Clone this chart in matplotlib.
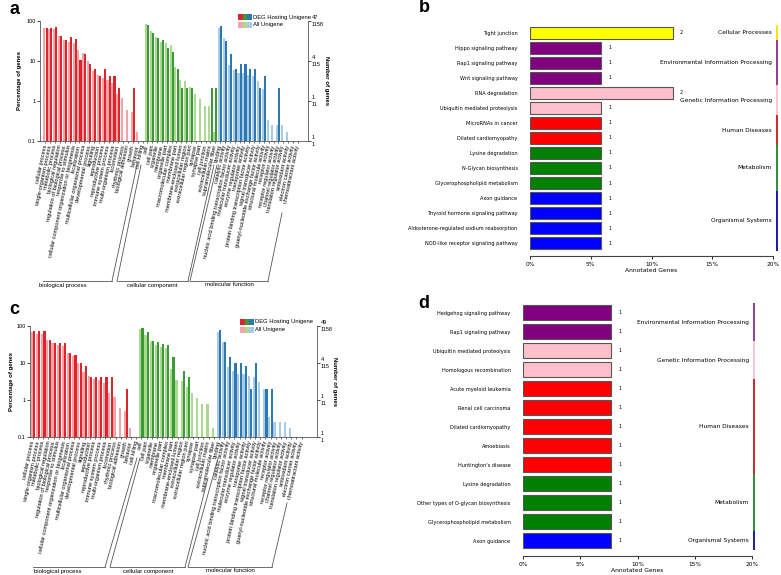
import numpy as np
import matplotlib.pyplot as plt
from matplotlib.transforms import blended_transform_factory as blend

W, H = 781, 575

# ---------------- GO level 2 terms ----------------
bp_terms = ["cellular process", "single-organism process", "metabolic process",
            "biological regulation", "regulation of biological process",
            "response to stimulus", "cellular component organization or biogenesis",
            "localization", "multicellular organismal process", "developmental process",
            "signaling", "reproduction", "reproductive process", "immune system process",
            "multi-organism process", "locomotion", "rhythmic process", "biological adhesion",
            "growth", "behavior", "cell killing"]
cc_terms = ["cell", "cell part", "organelle", "membrane", "organelle part",
            "macromolecular complex", "membrane part", "membrane-enclosed lumen",
            "extracellular region", "extracellular region part", "synapse", "synapse part",
            "cell junction", "extracellular matrix", "supramolecular fiber"]
mf_terms = ["binding", "catalytic activity",
            "nucleic acid binding transcription factor activity",
            "molecular transducer activity", "enzyme regulator activity", "transporter activity",
            "protein binding transcription factor activity", "signal transducer activity",
            "guanyl-nucleotide exchange factor activity", "structural molecule activity",
            "receptor activity", "receptor regulator activity", "channel regulator activity",
            "translation regulator activity", "antioxidant activity", "electron carrier activity",
            "chemoattractant activity"]

# percentage of all unigenes (1158) per term
all_bp = [68, 62, 62, 41, 34, 30, 28, 18.6, 15.5, 10, 5.6, 4.4, 3.7, 3.4, 2.8, 1.5, 1.2,
          0.6, 0.52, 0.17, 0]
all_cc = [85, 56, 40, 30, 27.5, 25.5, 7.1, 3.4, 3.2, 2.2, 1.5, 1.1, 0.76, 0.76, 0.17]
all_mf = [68, 37, 7.9, 6, 5, 5, 4.5, 4.2, 3.1, 2.0, 0.34, 0.25, 0.25, 0.25, 0.17, 0, 0]

# DEG hosting unigene counts, panel a (47 genes) and panel c (49 genes)
a_total = 47
a_bp = [31, 31, 33, 20, 16, 19, 17, 5, 7, 4, 3, 2, 3, 2, 2, 1, 0, 0, 1, 0, 0]
a_cc = [37, 23, 18, 16, 10, 8, 3, 1, 1, 1, 0, 0, 0, 1, 1]
a_mf = [35, 15, 7, 3, 4, 4, 3, 3, 1, 2, 0, 0, 1, 0, 0, 0, 0]
c_total = 49
c_bp = [37, 37, 36, 21, 17, 17, 17, 9, 8, 5, 4, 2, 2, 2, 2, 2, 0, 0, 1, 0, 0]
c_cc = [43, 34, 19, 18, 16, 15, 7, 0, 3, 2, 0, 0, 0, 0, 0]
c_mf = [39, 18, 7, 5, 5, 4, 1, 5, 0, 1, 1, 0, 0, 0, 0, 0, 0]
all_total = 1158

# ---------------- KEGG pathways ----------------
b_paths = ["Tight junction", "Hippo signaling pathway", "Rap1 signaling pathway",
           "Wnt signaling pathway", "RNA degradation", "Ubiquitin mediated proteolysis",
           "MicroRNAs in cancer", "Dilated cardiomyopathy", "Lysine degradation",
           "N-Glycan biosynthesis", "Glycerophospholipid metabolism", "Axon guidance",
           "Thyroid hormone signaling pathway", "Aldosterone-regulated sodium reabsorption",
           "NOD-like receptor signaling pathway"]
b_counts = [2, 1, 1, 1, 2, 1, 1, 1, 1, 1, 1, 1, 1, 1, 1]
b_class = ["Cellular Processes"] + ["Environmental Information Processing"] * 3 + \
          ["Genetic Information Processing"] * 2 + ["Human Diseases"] * 2 + \
          ["Metabolism"] * 3 + ["Organismal Systems"] * 4

d_paths = ["Hedgehog signaling pathway", "Rap1 signaling pathway",
           "Ubiquitin mediated proteolysis", "Homologous recombination",
           "Acute myeloid leukemia", "Renal cell carcinoma", "Dilated cardiomyopathy",
           "Amoebiasis", "Huntington's disease", "Lysine degradation",
           "Other types of O-glycan biosynthesis", "Glycerophospholipid metabolism",
           "Axon guidance"]
d_counts = [1] * 13
d_class = ["Environmental Information Processing"] * 2 + \
          ["Genetic Information Processing"] * 2 + ["Human Diseases"] * 5 + \
          ["Metabolism"] * 3 + ["Organismal Systems"]

class_color = {"Cellular Processes": "#ffff00",
               "Environmental Information Processing": "#800080",
               "Genetic Information Processing": "#ffc0cb",
               "Human Diseases": "#ff0000",
               "Metabolism": "#008000",
               "Organismal Systems": "#0000ff"}
class_line = {"Cellular Processes": "#f2e600",
              "Environmental Information Processing": "#8e3d8e",
              "Genetic Information Processing": "#f7c6d0",
              "Human Diseases": "#c8282d",
              "Metabolism": "#2e8b3a",
              "Organismal Systems": "#1a1aa0"}

dark = ["#e0242c", "#3a9a35", "#2b78b4"]
light = ["#f4a3a6", "#abd98f", "#a9cbe5"]

GO = "Liberation Sans"
KG = "DejaVu Sans"

fig = plt.figure(figsize=(W / 100, H / 100), dpi=100)
ov = fig.add_axes([0, 0, 1, 1])
ov.set_xlim(0, W)
ov.set_ylim(H, 0)
ov.axis("off")
ov.set_zorder(10)


def px_axes(x0, y0, x1, y1):
    return fig.add_axes([x0 / W, 1 - y1 / H, (x1 - x0) / W, (y1 - y0) / H])


def go_panel(box, xlim, deg_bp, deg_cc, deg_mf, n_deg, legend_xy, deg_nums, all_nums,
             letter_xy, brackets, ylab_x, rlab_x):
    ax = px_axes(*box)
    terms = bp_terms + cc_terms + mf_terms
    allv = np.array(all_bp + all_cc + all_mf, dtype=float)
    deg = np.array(deg_bp + deg_cc + deg_mf, dtype=float) / n_deg * 100
    grp = [0] * len(bp_terms) + [1] * len(cc_terms) + [2] * len(mf_terms)
    x = np.arange(len(terms))
    m = allv > 0
    ax.bar(x[m] - 0.22, allv[m], 0.42, color=[light[g] for g, k in zip(grp, m) if k])
    m = deg > 0
    ax.bar(x[m] + 0.22, deg[m], 0.42, color=[dark[g] for g, k in zip(grp, m) if k])
    ax.set_yscale("log")
    ax.set_ylim(0.1, 100)
    ax.set_xlim(*xlim)
    ax.set_yticks([0.1, 1, 10, 100])
    ax.set_yticklabels(["0.1", "1", "10", "100"], fontsize=4, family=GO)
    ax.yaxis.set_minor_locator(plt.NullLocator())
    ax.tick_params(axis="y", length=2, width=0.5, pad=1, right=True)
    ax.set_xticks(x)
    ax.set_xticklabels(terms, rotation=78, ha="right", va="center",
                       rotation_mode="anchor", fontsize=4.1, family=GO)
    ax.tick_params(axis="x", length=1.5, width=0.4, pad=1.5)
    ax.spines["top"].set_visible(False)
    for s in ["left", "right", "bottom"]:
        ax.spines[s].set_linewidth(0.6)
        ax.spines[s].set_color("#555555")
    tr = blend(ax.transAxes, ax.transData)
    xr = 1 + 4 / (box[2] - box[0])
    for v, dn, an in zip([100, 10, 1, 0.1], deg_nums, all_nums):
        ax.text(xr, v * 1.23, dn, transform=tr, fontsize=4, family=GO, va="center")
        ax.text(xr, v / 1.23, an, transform=tr, fontsize=4, family=GO, va="center")
    ymid = (box[1] + box[3]) / 2
    ov.text(ylab_x, ymid, "Percentage of genes", rotation=90, fontsize=4.3,
            family=GO, ha="center", va="center", weight="bold")
    ov.text(rlab_x, ymid, "Number of genes", rotation=270, fontsize=4.3,
            family=GO, ha="center", va="center", weight="bold")
    # legend
    lx, ly = legend_xy
    for row, cols, txt in [(0, dark, "DEG Hosting Unigene"), (1, light, "All Unigene")]:
        for k, c in enumerate(cols):
            ov.add_patch(plt.Rectangle((lx + k * 4.7, ly + row * 7.5 - 3), 4.5, 6,
                                       color=c, lw=0))
        ov.text(lx + 15, ly + row * 7.5, txt, fontsize=4.2, family=GO, va="center")
    ov.text(*letter_xy, box_letter.pop(0), fontsize=13, weight="bold", family=GO,
            ha="center", va="center")
    base, segs, labels = brackets
    for (x0, y0), (x1, y1) in segs:
        ov.plot([x0, x1], [y0, y1], color="#555555", lw=0.6)
    for tx, txt in labels:
        ov.text(tx, base + 4, txt, fontsize=4.3, family=GO, ha="center", va="center")


def kegg_panel(box, paths, counts, classes, xlim_px, letter_xy, cat_x, line_x):
    ax = px_axes(*box)
    n = len(paths)
    total = sum(counts)
    pct = np.array(counts) / total * 100
    y = np.arange(n)
    ax.barh(y, pct, 0.8, color=[class_color[c] for c in classes],
            edgecolor="#555555", linewidth=0.8)
    x0, x1 = xlim_px
    ppx = (x1 - x0) / 20.0
    ax.set_xlim(0, 20)
    ax.set_ylim(n - 0.4 + 4 / ((box[3] - box[1]) / n), -0.52)
    ax.set_yticks(y)
    ax.set_yticklabels(paths, fontsize=3.6, family=KG)
    ax.tick_params(axis="y", length=0, pad=9)
    ax.set_xticks([0, 5, 10, 15, 20])
    ax.set_xticklabels(["0%", "5%", "10%", "15%", "20%"], fontsize=4.2, family=KG)
    ax.tick_params(axis="x", length=2.5, width=0.6, pad=1.5)
    ax.set_xlabel("Annotated Genes", fontsize=4.3, family=KG, labelpad=1)
    for s in ["top", "right", "left"]:
        ax.spines[s].set_visible(False)
    ax.spines["bottom"].set_linewidth(0.8)
    ax.spines["bottom"].set_color("#444444")
    for yi, p, c in zip(y, pct, counts):
        ax.text(p + 7 / ppx, yi, str(c), fontsize=3.5, family=KG, va="center")
    # class bands on the right
    order = []
    for c in classes:
        if c not in order:
            order.append(c)
    for c in order:
        idx = [i for i, k in enumerate(classes) if k == c]
        a, b = idx[0] - 0.5, idx[-1] + 0.5
        ax.plot([20 + (line_x - x1) / ppx] * 2, [a, b], color=class_line[c], lw=1.4,
                clip_on=False, solid_capstyle="butt")
        ax.text(20 - (x1 - cat_x) / ppx, (a + b) / 2, c, fontsize=4.2, family=KG,
                ha="right", va="center")
    ov.text(*letter_xy, box_letter.pop(0), fontsize=13, weight="bold", family=GO,
            ha="center", va="center")


box_letter = ["a", "b", "c", "d"]

# panel a
go_panel((40, 21, 308, 141), (-1.13, 54.1), a_bp, a_cc, a_mf, a_total, (238, 17),
         ["47", "4", "1", "1"], ["1158", "115", "11", "1"], (14, 9),
         (281,
          [((43, 281), (112, 281)), ((112, 281), (137, 165)),
           ((117, 281), (141, 165)), ((117, 281), (188, 281)), ((188, 281), (214, 165)),
           ((190, 281), (217, 165)), ((190, 281), (268, 281)), ((268, 281), (282, 213))],
          [(63, "biological process"), (152, "cellular component"),
           (229, "molecular function")]),
         20, 326)

# panel b
kegg_panel((530, 25, 773, 256), b_paths, b_counts, b_class, (530, 773), (424, 8),
           772, 777)

# panel c
go_panel((30, 326, 317, 437), (-0.58, 55.0), c_bp, c_cc, c_mf, c_total, (240, 322),
         ["49", "4", "1", "1"], ["1158", "115", "11", "1"], (14, 310),
         (567,
          [((33, 567), (105, 567)), ((105, 567), (137, 458)),
           ((110, 567), (140, 458)), ((110, 567), (185, 567)), ((185, 567), (208, 478)),
           ((188, 567), (218, 458)), ((188, 567), (272, 567)), ((272, 567), (287, 503))],
          [(58, "biological process"), (148, "cellular component"),
           (230, "molecular function")]),
         12, 335)

# panel d
kegg_panel((523, 303, 752, 556), d_paths, d_counts, d_class, (523, 752), (424, 304),
           749, 754)

fig.savefig("out.png", dpi=100)
